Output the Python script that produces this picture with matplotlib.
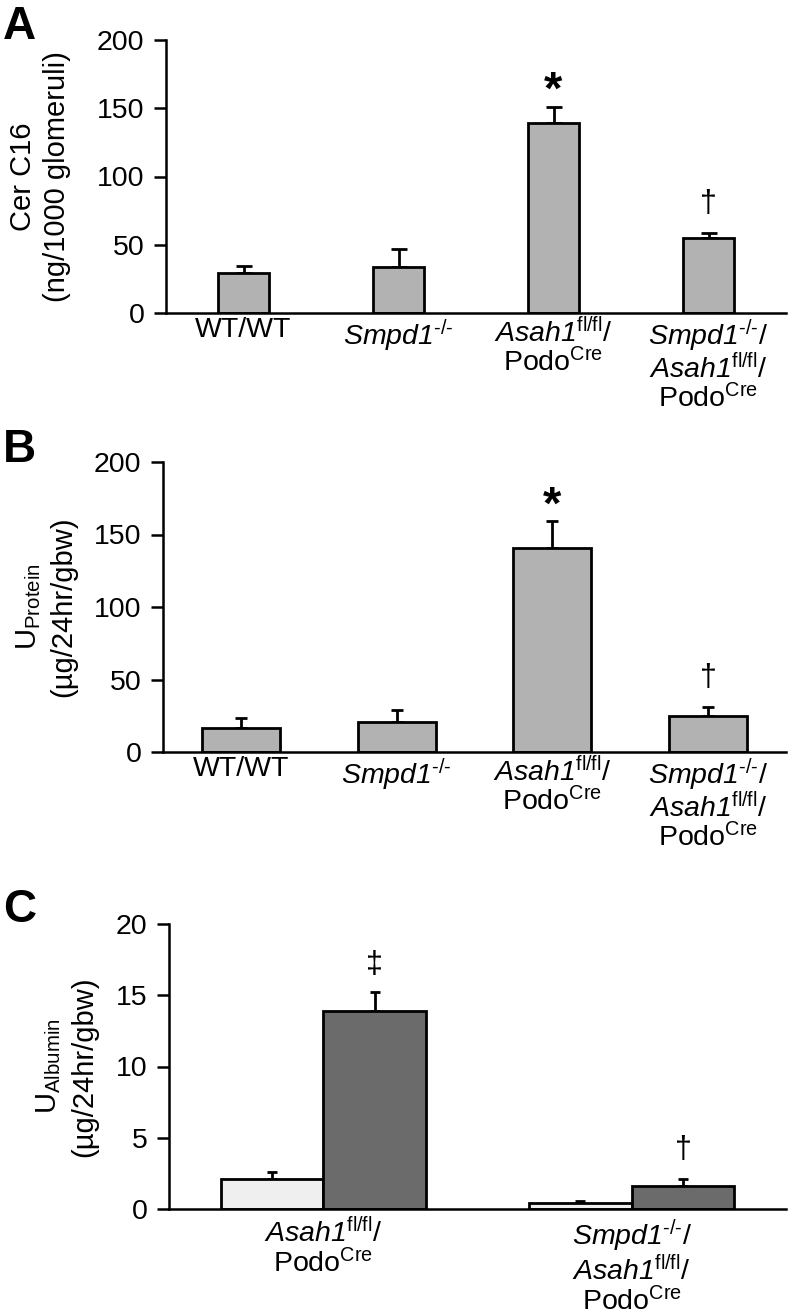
import matplotlib
matplotlib.use("Agg")
import matplotlib.pyplot as plt
import numpy as np

plt.rcParams['font.family'] = ['Liberation Sans', 'DejaVu Sans']
plt.rcParams['mathtext.fontset'] = 'custom'
plt.rcParams['mathtext.rm'] = 'Liberation Sans'
plt.rcParams['mathtext.it'] = 'Liberation Sans:style=italic:weight=normal'
# tt is used for italic gene names so the digit stays italic too
plt.rcParams['mathtext.tt'] = 'Liberation Sans:style=italic:weight=normal'
plt.rcParams['mathtext.bf'] = 'Liberation Sans:bold'

HY = "\u2010"
SMPD = r"$\mathtt{Smpd1}^{\mathrm{" + HY + "/" + HY + "}}$"
ASAH = r"$\mathtt{Asah1}^{\mathrm{fl/fl}}$"
PODO = r"Podo$^{\mathrm{Cre}}$"

# ---- data ----
group_labels = [
    "WT/WT",
    SMPD,
    ASAH + "/\n" + PODO,
    SMPD + "/\n" + ASAH + "/\n" + PODO,
]
cer_c16 = [29, 34, 139, 55]
cer_c16_err = [5.5, 13, 12, 3.5]
cer_marks = ["", "", "*", "\u2020"]

u_protein = [16.5, 20.7, 141, 24.8]
u_protein_err = [7, 8.3, 18, 6.2]
protein_marks = ["", "", "*", "\u2020"]

alb_groups = [
    ASAH + "/\n" + PODO,
    SMPD + "/\n" + ASAH + "/\n" + PODO,
]
alb_light = [2.1, 0.4]
alb_light_err = [0.5, 0.15]
alb_dark = [13.9, 1.6]
alb_dark_err = [1.3, 0.5]
alb_dark_marks = ["\u2021", "\u2020"]

W, H = 788, 1316
fig = plt.figure(figsize=(W / 100, H / 100), dpi=100)

FS = 20.5
LFS = 21
sym_style = {
    "*": dict(fontsize=34, fontweight='bold', off=2),
    "\u2020": dict(fontsize=22, fontweight='normal', off=15),
    "\u2021": dict(fontsize=22, fontweight='normal', off=14),
}


def px_axes(left, top, right, bottom):
    return fig.add_axes([left / W, 1 - bottom / H, (right - left) / W, (bottom - top) / H])


def style_axes(ax, ymax, step, xpad=3):
    for s in ['top', 'right']:
        ax.spines[s].set_visible(False)
    for s in ['left', 'bottom']:
        ax.spines[s].set_linewidth(1.8)
    ax.set_ylim(0, ymax)
    ax.set_yticks(np.arange(0, ymax + step / 2, step))
    ax.tick_params(axis='y', direction='out', length=8.5, width=1.8, labelsize=FS, pad=7)
    ax.tick_params(axis='x', length=0, labelsize=FS, pad=xpad)


def add_marks(ax, xs, tops, marks):
    for x, t, m in zip(xs, tops, marks):
        if not m:
            continue
        st = sym_style[m]
        ax.annotate(m, xy=(x, t), xytext=(0, st['off']), textcoords='offset points',
                    ha='center', va='baseline', fontsize=st['fontsize'],
                    fontweight=st['fontweight'])


def four_bar_panel(ax, vals, errs, marks, width, capsize, ylabel):
    x = np.arange(len(vals))
    ax.bar(x, vals, width=width, color='#b2b2b2', edgecolor='black', linewidth=2, zorder=2)
    ax.errorbar(x, vals, yerr=[np.zeros(len(errs)), errs], fmt='none', ecolor='black',
                elinewidth=2, capsize=capsize, capthick=2, zorder=1)
    ax.set_xlim(-0.5, 3.5)
    style_axes(ax, 200, 50)
    ax.set_xticks(x)
    ax.set_xticklabels(group_labels, linespacing=1.0)
    ax.set_ylabel(ylabel, fontsize=LFS, linespacing=1.3)
    add_marks(ax, x, np.array(vals) + np.array(errs), marks)


# ---- panel A ----
axA = px_axes(166, 40, 786, 313)
four_bar_panel(axA, cer_c16, cer_c16_err, cer_marks, 0.33, 5.5,
               "Cer C16\n(ng/1000 glomeruli)")
axA.yaxis.set_label_coords(-0.153, 0.5)

# ---- panel B ----
axB = px_axes(163, 462, 786, 752)
four_bar_panel(axB, u_protein, u_protein_err, protein_marks, 0.5, 4,
               r"U$_{\mathrm{Protein}}$" + "\n(\u00b5g/24hr/gbw)")
axB.yaxis.set_label_coords(-0.137, 0.5)

# ---- panel C ----
axC = px_axes(169, 924, 786, 1209)
xc = np.arange(len(alb_groups))
bw = 0.333
axC.bar(xc - bw / 2, alb_light, width=bw, color='#efefef', edgecolor='black', linewidth=2, zorder=2)
axC.bar(xc + bw / 2, alb_dark, width=bw, color='#6b6b6b', edgecolor='black', linewidth=2, zorder=2)
axC.errorbar(xc - bw / 2, alb_light, yerr=[np.zeros(2), alb_light_err], fmt='none', ecolor='black',
             elinewidth=2, capsize=3.5, capthick=2, zorder=1)
axC.errorbar(xc + bw / 2, alb_dark, yerr=[np.zeros(2), alb_dark_err], fmt='none', ecolor='black',
             elinewidth=2, capsize=3.5, capthick=2, zorder=1)
axC.set_xlim(-0.5, 1.5)
style_axes(axC, 20, 5, xpad=6)
axC.set_xticks(xc)
axC.set_xticklabels(alb_groups, linespacing=1.05)
axC.set_ylabel(r"U$_{\mathrm{Albumin}}$" + "\n(\u00b5g/24hr/gbw)", fontsize=LFS, linespacing=1.3)
axC.yaxis.set_label_coords(-0.115, 0.5)
add_marks(axC, xc + bw / 2, np.array(alb_dark) + np.array(alb_dark_err), alb_dark_marks)

# ---- panel letters ----
for letter, top in [("A", 5), ("B", 428), ("C", 888)]:
    fig.text(3 / W, 1 - top / H, letter, fontsize=33, fontweight='bold', ha='left', va='top')

fig.savefig("out.png", dpi=100)
